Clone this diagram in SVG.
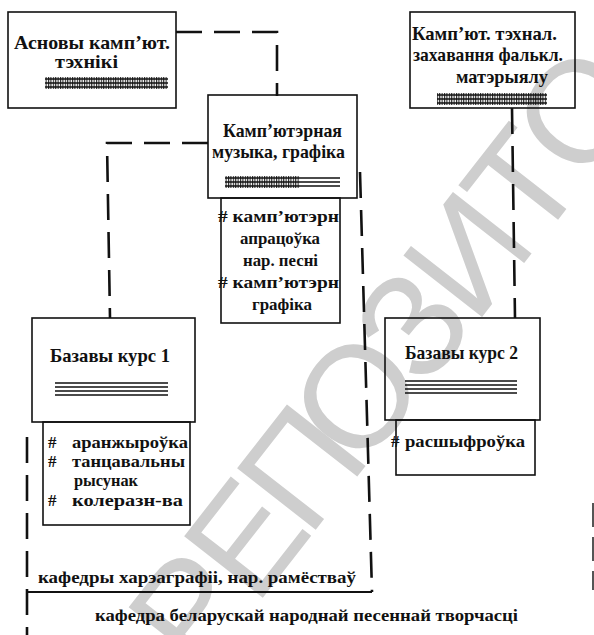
<svg xmlns="http://www.w3.org/2000/svg" width="594" height="635" viewBox="0 0 594 635">
<style>
.box{fill:none;stroke:#111;stroke-width:1.6}
.t{font-family:"Liberation Serif",serif;font-weight:bold;font-size:19px;fill:#111}
.s{font-family:"Liberation Serif",serif;font-weight:bold;font-size:17px;fill:#111}
.dash{fill:none;stroke:#111;stroke-width:2.6;stroke-dasharray:26 12}
.solid{fill:none;stroke:#111;stroke-width:1.8}
.ln{stroke:#111;stroke-width:1.3}
.wm{font-family:"Liberation Sans",sans-serif;font-size:145px;fill:#cecece;text-anchor:middle}
</style>
<defs>
<pattern id="hatch" width="2.4" height="4" patternUnits="userSpaceOnUse"><rect width="1.1" height="4" fill="#222"/></pattern>
</defs>
<rect width="594" height="635" fill="#fff"/>
<g id="watermark" transform="translate(355,395) rotate(-52)">
<text class="wm" x="-270" y="52">Р</text>
<text class="wm" x="-180" y="52">Е</text>
<text class="wm" x="-90" y="52">П</text>
<text class="wm" x="0" y="52">О</text>
<text class="wm" x="90" y="52">З</text>
<text class="wm" x="180" y="52">И</text>
<text class="wm" x="270" y="52">Т</text>
<text class="wm" x="362" y="52">О</text>
</g>
<g id="connectors">
<path class="dash" d="M176,32 H277 V96" stroke-dasharray="25 13"/>
<path class="dash" d="M208,143 H107 L110,318" stroke-dasharray="27 12"/>
<path class="dash" d="M512,108 L515,318" stroke-dasharray="25 12"/>
<path class="dash" d="M360,172 L372,592" stroke-dasharray="32 10"/>
<path class="dash" d="M27,437 V635" stroke-dasharray="30 12"/>
<path class="solid" d="M27,592 H372"/>
<path d="M593,503 V590" fill="none" stroke="#555" stroke-width="2" stroke-dasharray="24 10"/>
</g>
<g id="n1">
<rect class="box" x="8" y="12" width="168" height="96"/>
<text class="t" x="14" y="49" textLength="156" lengthAdjust="spacingAndGlyphs">Асновы  камп’ют.</text>
<text class="t" x="55" y="68" textLength="63" lengthAdjust="spacingAndGlyphs">тэхнікі</text>
<rect x="45" y="77" width="123" height="12" fill="url(#hatch)"/>
<path class="ln" d="M45,79 H168 M45,83 H168 M45,87 H168"/>
</g>
<g id="n2">
<rect class="box" x="208" y="95" width="149" height="103"/>
<text class="t" x="223" y="137" textLength="119" lengthAdjust="spacingAndGlyphs">Камп’ютэрная</text>
<text class="t" x="212" y="158" textLength="133" lengthAdjust="spacingAndGlyphs">музыка, графіка</text>
<rect x="225" y="176" width="75" height="12" fill="url(#hatch)"/>
<path class="ln" d="M225,178 H340 M225,182 H340 M225,186 H340"/>
</g>
<g id="n2sub">
<rect class="box" x="221" y="198" width="119" height="125"/>
<text class="s" x="218" y="222" textLength="121" lengthAdjust="spacingAndGlyphs"># камп’ютэрн</text>
<text class="s" x="240" y="244" textLength="80" lengthAdjust="spacingAndGlyphs">апрацоўка</text>
<text class="s" x="243" y="266" textLength="75" lengthAdjust="spacingAndGlyphs">нар. песні</text>
<text class="s" x="218" y="288" textLength="121" lengthAdjust="spacingAndGlyphs"># камп’ютэрн</text>
<text class="s" x="252" y="310" textLength="60" lengthAdjust="spacingAndGlyphs">графіка</text>
</g>
<g id="n3">
<rect class="box" x="410" y="12" width="165" height="96"/>
<text class="t" x="412" y="40" textLength="145" lengthAdjust="spacingAndGlyphs">Камп’ют. тэхнал.</text>
<text class="t" x="413" y="61" textLength="150" lengthAdjust="spacingAndGlyphs">захавання фалькл.</text>
<text class="t" x="456" y="83" textLength="92" lengthAdjust="spacingAndGlyphs">матэрыялу</text>
<rect x="437" y="93" width="110" height="12" fill="url(#hatch)"/>
<path class="ln" d="M437,95 H547 M437,99 H547 M437,103 H547"/>
</g>
<g id="n4">
<rect class="box" x="32" y="318" width="163" height="104"/>
<text class="t" x="50" y="362" textLength="120" lengthAdjust="spacingAndGlyphs">Базавы курс 1</text>
<path class="ln" d="M55,383 H168 M55,387 H168 M55,391 H168 M55,395 H168"/>
</g>
<g id="n4sub">
<rect class="box" x="43" y="422" width="147" height="103"/>
<text class="s" x="48" y="448">#</text>
<text class="s" x="72" y="448" textLength="116" lengthAdjust="spacingAndGlyphs">аранжыроўка</text>
<text class="s" x="48" y="467">#</text>
<text class="s" x="72" y="467" textLength="113" lengthAdjust="spacingAndGlyphs">танцавальны</text>
<text class="s" x="74" y="486" textLength="64" lengthAdjust="spacingAndGlyphs">рысунак</text>
<text class="s" x="48" y="506">#</text>
<text class="s" x="72" y="506" textLength="111" lengthAdjust="spacingAndGlyphs">колеразн-ва</text>
</g>
<g id="n5">
<rect class="box" x="385" y="318" width="155" height="102"/>
<text class="t" x="405" y="359" textLength="113" lengthAdjust="spacingAndGlyphs">Базавы курс 2</text>
<path class="ln" d="M405,381 H517 M405,385 H517 M405,389 H517 M405,393 H517"/>
</g>
<g id="n5sub">
<rect class="box" x="396" y="420" width="139" height="55"/>
<text class="s" x="391" y="447">#</text>
<text class="s" x="405" y="447" textLength="120" lengthAdjust="spacingAndGlyphs">расшыфроўка</text>
</g>
<g id="labels">
<text class="s" x="38" y="583" textLength="318" lengthAdjust="spacingAndGlyphs">кафедры харэаграфіі, нар. рамёстваў</text>
<text class="s" x="95" y="621" textLength="423" lengthAdjust="spacingAndGlyphs">кафедра беларускай народнай песеннай творчасці</text>
</g>
</svg>
